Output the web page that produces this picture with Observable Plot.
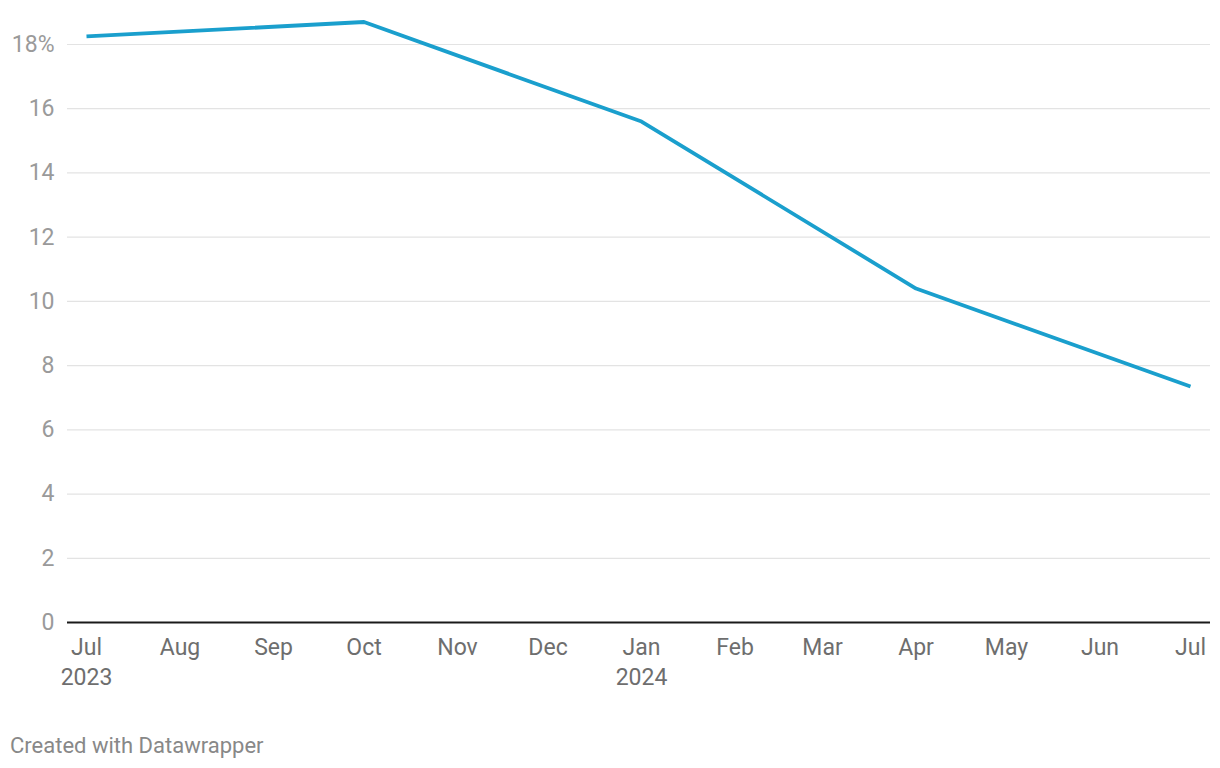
<!DOCTYPE html>
<html>
<head>
<meta charset="utf-8">
<script src="https://cdn.jsdelivr.net/npm/d3@7"></script>
<script src="https://cdn.jsdelivr.net/npm/@observablehq/plot@0.6"></script>
<style>
  body { margin: 0; background: #fff; font-family: Roboto, sans-serif; }
  #wrap { position: relative; width: 1220px; height: 768px; }
  #caption { position: absolute; left: 10px; top: 733px; font-size: 22px; color: #888; font-family: Roboto, sans-serif; }
</style>
</head>
<body>
<div id="wrap">
  <div id="chart"></div>
  <div id="caption">Created with Datawrapper</div>
</div>
<script>
const dates = ["2023-07-01", "2023-10-01", "2024-01-01", "2024-04-01", "2024-07-01"];
const values = [18.25, 18.7, 15.6, 10.4, 7.35];
const yTicks = [0, 2, 4, 6, 8, 10, 12, 14, 16, 18];
const yTickLabels = ["0", "2", "4", "6", "8", "10", "12", "14", "16", "18%"];
const xTickDates = ["2023-07-01","2023-08-01","2023-09-01","2023-10-01","2023-11-01","2023-12-01","2024-01-01","2024-02-01","2024-03-01","2024-04-01","2024-05-01","2024-06-01","2024-07-01"];
const xTickLabels = ["Jul\n2023","Aug","Sep","Oct","Nov","Dec","Jan\n2024","Feb","Mar","Apr","May","Jun","Jul"];

const data = dates.map((d, i) => ({date: new Date(d + "T00:00:00"), value: values[i]}));
const xt = xTickDates.map((d, i) => ({date: new Date(d + "T00:00:00"), label: xTickLabels[i]}));
const yt = yTicks.map((v, i) => ({v, label: yTickLabels[i]}));

const chart = Plot.plot({
  width: 1220,
  height: 710,
  marginLeft: 67,
  marginRight: 10,
  marginTop: 0,
  marginBottom: 88,
  style: {fontFamily: "Roboto, sans-serif", background: "#fff"},
  x: {type: "time", domain: [data[0].date, data[data.length - 1].date], range: [86, 1190], axis: null},
  y: {domain: [0, 18], range: [622, 44], axis: null},
  marks: [
    Plot.ruleY(yt.filter(d => d.v > 0), {y: "v", stroke: "#e3e3e3", strokeWidth: 1.2}),
    Plot.text(yt, {y: "v", frameAnchor: "left", dx: 54 - 67, x: null, text: "label", textAnchor: "end", fill: "#9a9a9a", fontSize: 23}),
    Plot.ruleY([0], {stroke: "#1a1a1a", strokeWidth: 2}),
    Plot.text(xt, {x: "date", y: 0, text: "label", dy: 11, lineAnchor: "top", lineHeight: 1.3, fill: "#6e6e6e", fontSize: 23}),
    Plot.line(data, {x: "date", y: "value", stroke: "#1a9fcd", strokeWidth: 3.8, strokeLinejoin: "round", strokeLinecap: "butt"})
  ]
});
document.getElementById("chart").appendChild(chart);
</script>
</body>
</html>
